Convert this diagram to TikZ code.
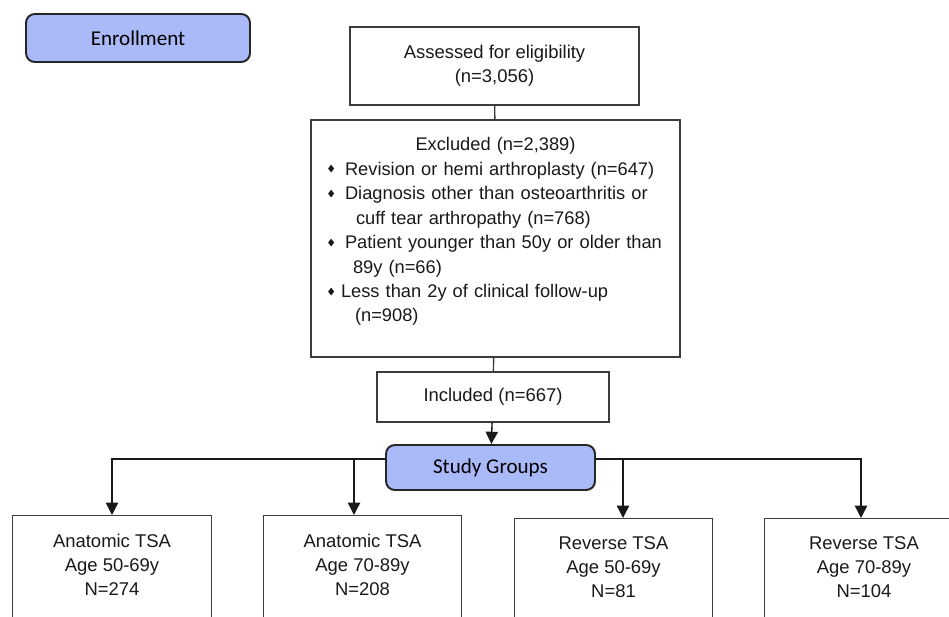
\documentclass[tikz,border=0pt]{standalone}
\usepackage{amssymb}
\usepackage{fontspec}
\setmainfont{Liberation Sans}
\newfontfamily\calibri{Carlito}
\usepackage{tikz}
\usetikzlibrary{positioning,arrows.meta}

\definecolor{grpblue}{RGB}{170,185,247}
\definecolor{edge}{RGB}{60,60,60}
\newcommand{\dmd}{\raisebox{0.35ex}{\tiny$\blacklozenge$}}

\begin{document}
\begin{tikzpicture}[x=0.02cm,y=-0.02cm]
\tikzstyle{box}=[draw=edge,line width=0.7pt,shape=rectangle,align=center,
  font=\fontsize{10.5}{13.6}\selectfont,text=black!90];
\tikzstyle{stage}=[draw=black!85,line width=1.1pt,fill=grpblue,rounded corners=5pt,
  font=\calibri\fontsize{12}{14}\selectfont];
\tikzstyle{arr}=[draw=black!90,line width=0.8pt,-{Triangle[length=7pt,width=7pt]}];
\useasboundingbox (0,0) rectangle (949,617);
\clip (0,0) rectangle (949,617);

\node[stage,minimum width=4.48cm,minimum height=0.96cm] (enroll) at (138,38) {Enrollment};

\node[box,minimum width=5.78cm,minimum height=1.56cm] (assess) at (494.5,66)
  {Assessed for eligibility\\(n=3,056)};
\node[box,text width=6.74cm,inner xsep=0.32cm,align=left,minimum height=4.74cm,
  font=\fontsize{10.4}{13.9}\selectfont] (excl) at (495.5,238.5) {%
  \makebox[\linewidth]{Excluded (n=2,389)}\\
  \makebox[0.36cm][l]{\dmd}Revision or hemi arthroplasty (n=647)\\
  \makebox[0.36cm][l]{\dmd}Diagnosis other than osteoarthritis or\\
  \hspace*{0.58cm}cuff tear arthropathy (n=768)\\
  \makebox[0.36cm][l]{\dmd}Patient younger than 50y or older than\\
  \hspace*{0.52cm}89y (n=66)\\
  \makebox[0.28cm][l]{\dmd}Less than 2y of clinical follow-up\\
  \hspace*{0.56cm}(n=908)\\[-4pt]\mbox{}};
\node[box,minimum width=4.64cm,minimum height=1.0cm] (incl) at (493,397) {Included (n=667)};

\node[stage,minimum width=4.18cm,minimum height=0.9cm] (study) at (490.5,467.5) {Study Groups};

% study groups
\tikzstyle{grp}=[draw=edge,line width=0.7pt,anchor=north,minimum width=3.97cm,minimum height=2.6cm];
\tikzstyle{grptxt}=[anchor=north,inner sep=0pt,align=center,
  font=\fontsize{10.5}{13.6}\selectfont,text=black!90];
\node[grp] (g1) at (112,515) {};
\node[grp] (g2) at (362.5,515) {};
\node[grp] (g3) at (613.5,518) {};
\node[grp] (g4) at (864,518) {};
\node[grptxt,below=0.37cm of g1.north] (g1t) {Anatomic TSA\\Age 50-69y\\N=274};
\node[grptxt,below=0.37cm of g2.north] (g2t) {Anatomic TSA\\Age 70-89y\\N=208};
\node[grptxt,below=0.37cm of g3.north] (g3t) {Reverse TSA\\Age 50-69y\\N=81};
\node[grptxt,below=0.37cm of g4.north] (g4t) {Reverse TSA\\Age 70-89y\\N=104};

\coordinate (bus) at (0,459);
\coordinate (b2) at (354,459);
\coordinate (b3) at (623,459);
\coordinate (b4) at (861,459);

\draw[edge,line width=0.8pt] (assess) -- (excl);
\draw[edge,line width=0.8pt] (excl) -- (incl);
\draw[arr] (incl) -- (study);
\draw[arr] (study.west |- bus) -| (g1.north);
\draw[arr] (b2) -- (b2 |- g2.north);
\draw[arr] (study.east |- bus) -| (b4 |- g4.north);
\draw[arr] (b3) -- (b3 |- g3.north);
\end{tikzpicture}
\end{document}
